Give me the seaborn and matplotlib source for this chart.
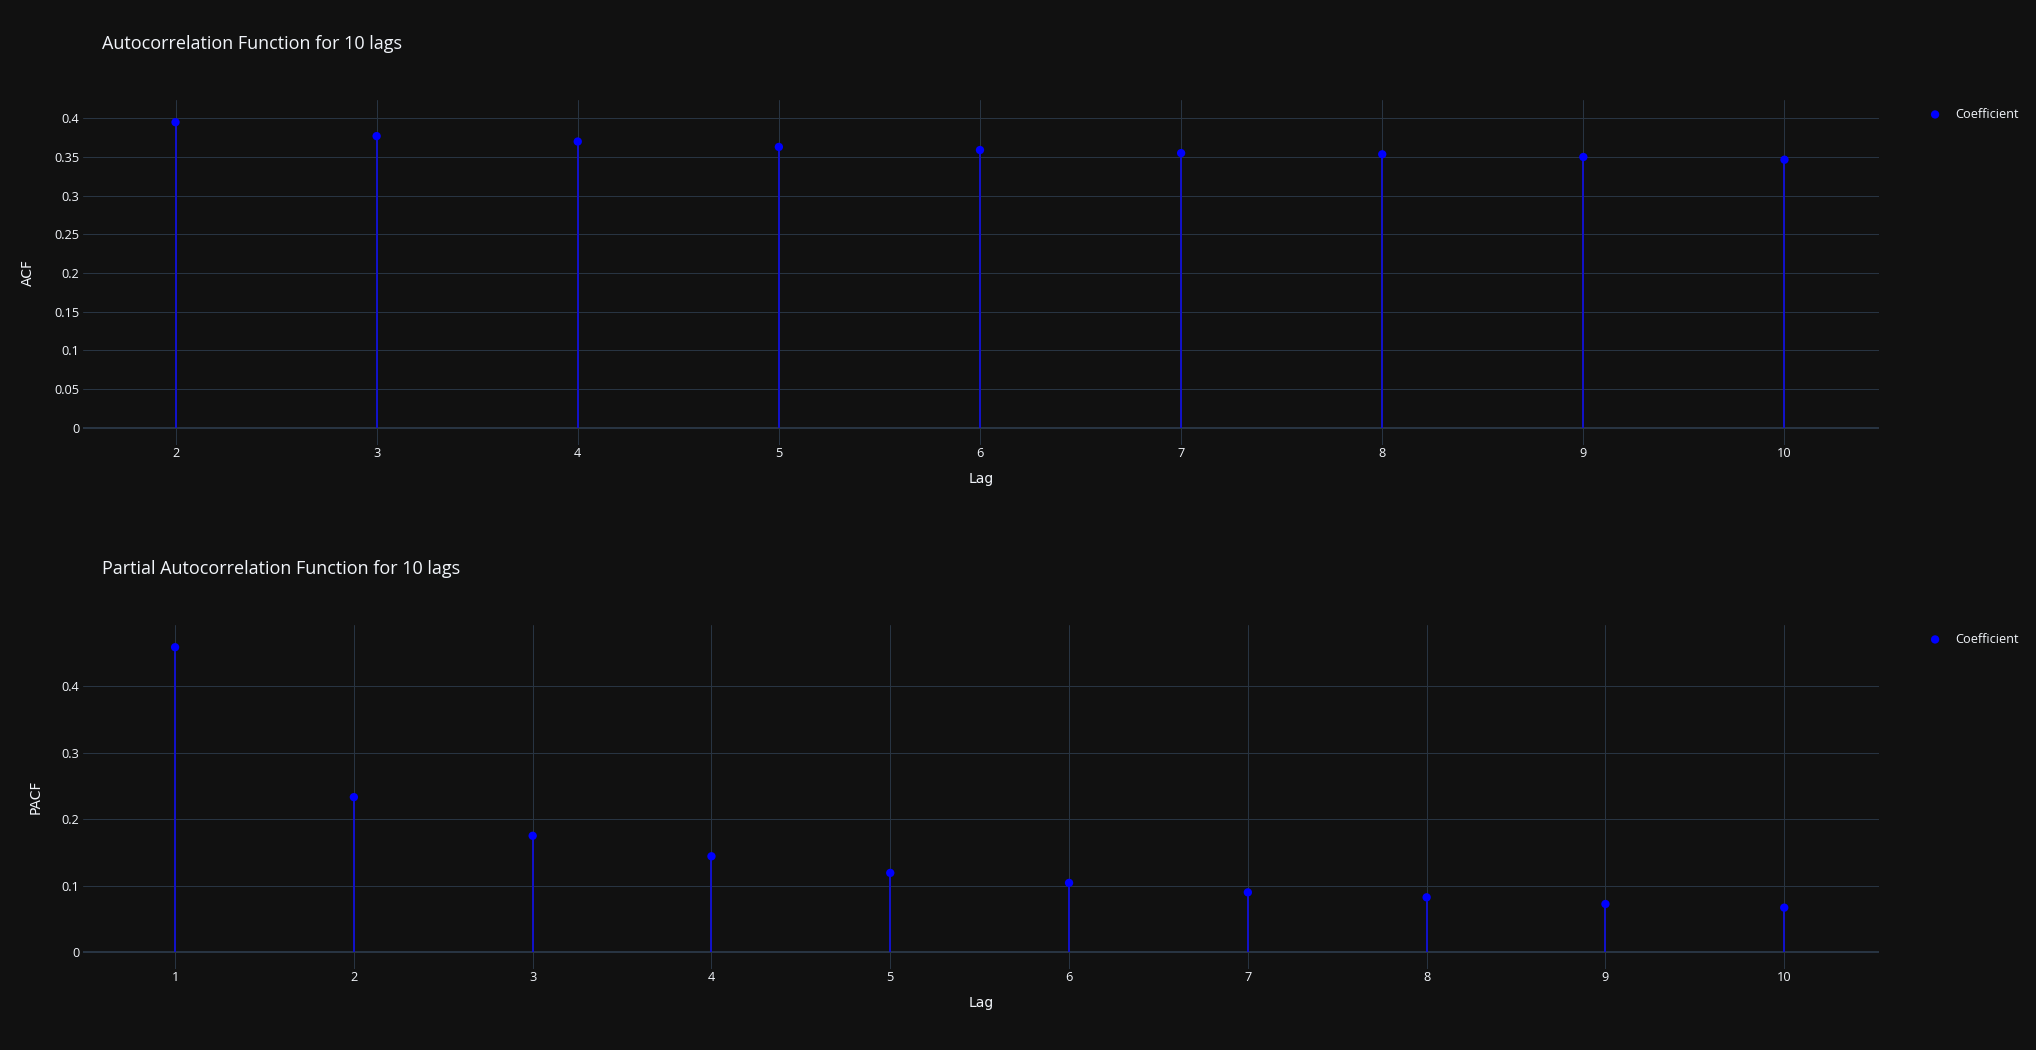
import seaborn as sns
import matplotlib.pyplot as plt
import pandas as pd

acf_lags = [2, 3, 4, 5, 6, 7, 8, 9, 10]
acf_vals = [0.395, 0.377, 0.370, 0.363, 0.359, 0.355, 0.3535, 0.350, 0.3465]

pacf_lags = [1, 2, 3, 4, 5, 6, 7, 8, 9, 10]
pacf_vals = [0.4586, 0.2333, 0.1752, 0.1444, 0.1194, 0.1044, 0.0902, 0.0827, 0.0727, 0.0672]

acf_yticks = [0, 0.05, 0.1, 0.15, 0.2, 0.25, 0.3, 0.35, 0.4]
acf_yticklabels = ['0', '0.05', '0.1', '0.15', '0.2', '0.25', '0.3', '0.35', '0.4']
pacf_yticks = [0, 0.1, 0.2, 0.3, 0.4]
pacf_yticklabels = ['0', '0.1', '0.2', '0.3', '0.4']

bg = '#111111'
grid = '#283442'
txt = '#f2f5fa'

sns.set_theme(style='darkgrid', rc={
    'figure.facecolor': bg,
    'axes.facecolor': bg,
    'grid.color': grid,
    'grid.linewidth': 0.72,
    'axes.edgecolor': bg,
    'xtick.color': txt,
    'ytick.color': txt,
    'text.color': txt,
    'axes.labelcolor': txt,
})
plt.rcParams['font.family'] = ['Open Sans', 'DejaVu Sans']

fig = plt.figure(figsize=(20.36, 10.5), dpi=100)

W, H = 2036, 1050
left, right = 83, 1879

panels = [
    dict(lags=acf_lags, vals=acf_vals, top=100, bottom=445, xlim=(1.54, 10.47),
         ylim=(-0.0224, 0.4237), yticks=acf_yticks, ylabels=acf_yticklabels,
         ylabel='ACF', ylab_x=27.5, title='Autocorrelation Function for 10 lags',
         title_y=44, xticks=list(range(2, 11))),
    dict(lags=pacf_lags, vals=pacf_vals, top=625, bottom=969, xlim=(0.485, 10.53),
         ylim=(-0.025, 0.492), yticks=pacf_yticks, ylabels=pacf_yticklabels,
         ylabel='PACF', ylab_x=35.7, title='Partial Autocorrelation Function for 10 lags',
         title_y=569.5, xticks=list(range(1, 11))),
]

for p in panels:
    ax = fig.add_axes([left / W, 1 - p['bottom'] / H, (right - left) / W, (p['bottom'] - p['top']) / H])
    df = pd.DataFrame({'Lag': p['lags'], 'value': p['vals']})

    ax.axhline(0, color=grid, linewidth=1.44, zorder=1)
    ax.vlines(df['Lag'], 0, df['value'], color='#1212cc', linewidth=1.4, zorder=2)
    sns.scatterplot(data=df, x='Lag', y='value', ax=ax, color='#0000ff', s=36,
                    edgecolor='none', linewidth=0, label='Coefficient', zorder=3)

    ax.set_xlim(*p['xlim'])
    ax.set_ylim(*p['ylim'])
    ax.set_xticks(p['xticks'])
    ax.set_xticklabels([str(t) for t in p['xticks']])
    ax.set_yticks(p['yticks'])
    ax.set_yticklabels(p['ylabels'])
    ax.tick_params(axis='both', length=0, labelsize=9.2)
    ax.tick_params(axis='x', pad=1.5)
    ax.tick_params(axis='y', pad=2.5)
    for s in ax.spines.values():
        s.set_visible(False)
    ax.grid(True, color=grid, linewidth=0.72)
    ax.set_axisbelow(True)

    h = p['bottom'] - p['top']
    ax.set_xlabel('Lag', fontsize=10, family=['DejaVu Sans'], va='center')
    ax.xaxis.set_label_coords(0.5, -34 / h)
    ax.set_ylabel(p['ylabel'], fontsize=10, family=['DejaVu Sans'], va='center')
    ax.yaxis.set_label_coords((p['ylab_x'] - left) / (right - left), 0.5)

    ax.legend(loc='center left', bbox_to_anchor=(1928.7 / W, 1 - (p['top'] + 14.3) / H),
              bbox_transform=fig.transFigure, frameon=False, borderpad=0, borderaxespad=0,
              handlelength=1, handletextpad=1.05, fontsize=9.2, labelcolor=txt)

    fig.text(101.8 / W, 1 - p['title_y'] / H, p['title'], fontsize=13, color=txt,
             ha='left', va='center')

fig.savefig('out.png', dpi=100, facecolor=bg)
